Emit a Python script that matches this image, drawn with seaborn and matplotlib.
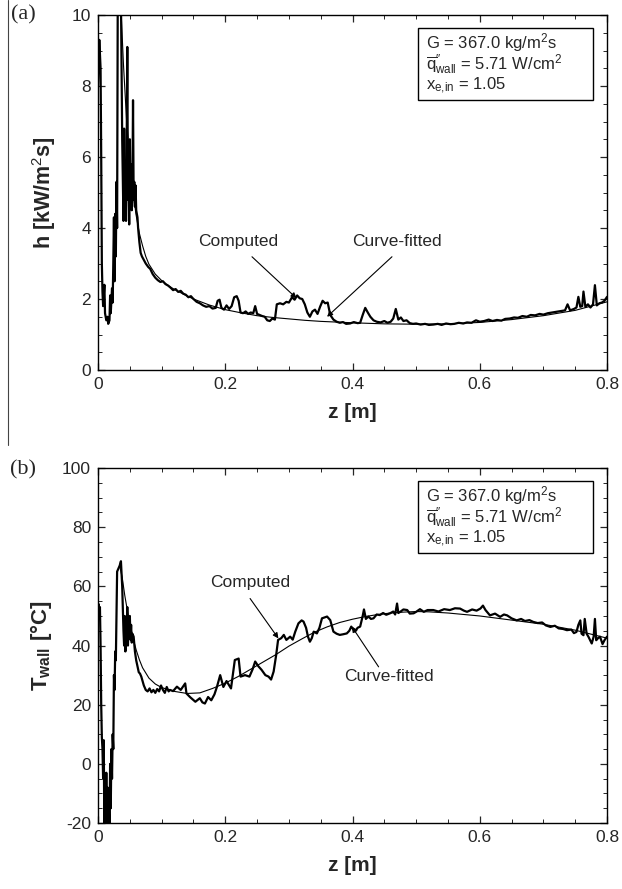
import seaborn as sns
import matplotlib.pyplot as plt
import matplotlib.patches as mpatches
from matplotlib.lines import Line2D
from matplotlib.ticker import MultipleLocator
import pandas as pd

OUTPUT_FILE_NAME = "out.png"

# ---- panel (a): heat transfer coefficient, computed ----
z_h = [0.000, 0.002, 0.004, 0.005, 0.006, 0.007, 0.008, 0.010, 0.011, 0.013,
       0.015, 0.016, 0.018, 0.019, 0.020, 0.022, 0.023, 0.024, 0.025, 0.026,
       0.027, 0.028, 0.029, 0.030, 0.031, 0.033, 0.036, 0.038, 0.040, 0.041,
       0.042, 0.043, 0.044, 0.045, 0.046, 0.047, 0.048, 0.049, 0.050, 0.051,
       0.052, 0.053, 0.054, 0.055, 0.056, 0.057, 0.058, 0.059, 0.060, 0.062,
       0.063, 0.065, 0.067, 0.069, 0.072, 0.075, 0.079, 0.082, 0.086, 0.090,
       0.094, 0.098, 0.102, 0.106, 0.110, 0.114, 0.118, 0.122, 0.126, 0.130,
       0.134, 0.138, 0.142, 0.146, 0.150, 0.155, 0.160, 0.165, 0.170, 0.175,
       0.180, 0.185, 0.188, 0.191, 0.194, 0.198, 0.202, 0.206, 0.210, 0.214,
       0.218, 0.221, 0.224, 0.228, 0.232, 0.236, 0.240, 0.244, 0.247, 0.250,
       0.254, 0.258, 0.262, 0.266, 0.270, 0.274, 0.278, 0.281, 0.286, 0.291,
       0.296, 0.300, 0.305, 0.309, 0.313, 0.317, 0.321, 0.325, 0.329, 0.333,
       0.337, 0.341, 0.345, 0.349, 0.353, 0.357, 0.361, 0.365, 0.370, 0.375,
       0.380, 0.385, 0.390, 0.396, 0.402, 0.408, 0.412, 0.416, 0.420, 0.424,
       0.428, 0.433, 0.438, 0.444, 0.450, 0.455, 0.460, 0.464, 0.468, 0.472,
       0.476, 0.480, 0.485, 0.490, 0.495, 0.500, 0.507, 0.514, 0.520, 0.527,
       0.534, 0.540, 0.547, 0.554, 0.560, 0.567, 0.574, 0.580, 0.587, 0.594,
       0.600, 0.607, 0.614, 0.620, 0.627, 0.634, 0.640, 0.647, 0.654, 0.660,
       0.667, 0.674, 0.680, 0.687, 0.694, 0.700, 0.707, 0.714, 0.720, 0.727,
       0.734, 0.738, 0.742, 0.748, 0.752, 0.755, 0.758, 0.761, 0.763, 0.766,
       0.770, 0.774, 0.778, 0.781, 0.784, 0.788, 0.792, 0.796, 0.800]
h_comp = [8.0, 9.3, 8.5, 6.0, 3.0, 2.2, 1.8, 2.4, 1.6, 1.4,
          1.5, 1.3, 1.4, 2.1, 1.6, 2.3, 1.9, 3.0, 4.3, 2.5,
          4.4, 3.2, 5.3, 4.0, 10.5, 10.5, 10.5, 6.5, 4.2, 6.8,
          4.3, 5.8, 4.2, 6.2, 9.1, 4.8, 5.5, 4.1, 6.5, 4.6,
          5.8, 4.5, 5.0, 7.6, 4.8, 5.3, 4.6, 5.2, 4.5, 4.3,
          4.0, 3.6, 3.3, 3.2, 3.1, 3.0, 2.9, 2.85, 2.7, 2.6,
          2.53, 2.48, 2.5, 2.42, 2.38, 2.32, 2.25, 2.28, 2.2, 2.23,
          2.15, 2.12, 2.05, 2.08, 2.0, 1.92, 1.88, 1.82, 1.78, 1.80,
          1.73, 1.75, 1.95, 1.98, 1.75, 1.70, 1.82, 1.72, 1.80, 2.05,
          2.08, 1.95, 1.62, 1.60, 1.65, 1.58, 1.62, 1.60, 1.80, 1.58,
          1.55, 1.52, 1.50, 1.40, 1.38, 1.45, 1.42, 1.85, 1.88, 1.85,
          1.92, 1.90, 2.05, 1.98, 2.10, 2.02, 2.0, 1.85, 1.62, 1.50,
          1.65, 1.70, 1.58, 1.78, 1.95, 1.88, 1.90, 1.55, 1.42, 1.36,
          1.33, 1.35, 1.30, 1.31, 1.35, 1.32, 1.33, 1.55, 1.75, 1.62,
          1.50, 1.40, 1.36, 1.34, 1.38, 1.33, 1.36, 1.45, 1.72, 1.42,
          1.48, 1.38, 1.40, 1.32, 1.30, 1.31, 1.28, 1.30, 1.27, 1.28,
          1.30, 1.27, 1.31, 1.29, 1.30, 1.33, 1.31, 1.34, 1.33, 1.40,
          1.36, 1.38, 1.42, 1.38, 1.41, 1.39, 1.44, 1.45, 1.48, 1.47,
          1.52, 1.50, 1.55, 1.54, 1.58, 1.56, 1.60, 1.62, 1.64, 1.66,
          1.68, 1.85, 1.68, 1.72, 1.76, 2.06, 1.78, 1.80, 2.21, 1.78,
          1.85, 1.76, 1.85, 2.39, 1.82, 1.88, 1.90, 1.95, 2.06]

# ---- panel (a): curve-fitted ----
z_h_fit = [0.036, 0.040, 0.045, 0.050, 0.055, 0.060, 0.065, 0.070, 0.075, 0.080,
           0.090, 0.100, 0.110, 0.120, 0.135, 0.150, 0.175, 0.200, 0.225, 0.250,
           0.275, 0.300, 0.325, 0.350, 0.375, 0.400, 0.450, 0.500, 0.550, 0.600,
           0.650, 0.700, 0.750, 0.800]
h_fit = [10.2, 8.6, 7.0, 5.9, 5.0, 4.35, 3.85, 3.5, 3.2, 2.98,
         2.7, 2.52, 2.38, 2.27, 2.13, 2.0, 1.83, 1.70, 1.61, 1.53,
         1.48, 1.44, 1.40, 1.37, 1.35, 1.33, 1.30, 1.29, 1.30, 1.34,
         1.42, 1.53, 1.68, 1.92]

# ---- panel (b): wall temperature, computed ----
z_t = [0.000, 0.001, 0.002, 0.003, 0.004, 0.005, 0.006, 0.007, 0.008, 0.009,
       0.010, 0.011, 0.012, 0.013, 0.014, 0.015, 0.016, 0.017, 0.018, 0.019,
       0.020, 0.021, 0.022, 0.023, 0.024, 0.025, 0.026, 0.027, 0.028, 0.029,
       0.030, 0.032, 0.034, 0.036, 0.038, 0.040, 0.041, 0.042, 0.043, 0.044,
       0.045, 0.046, 0.047, 0.048, 0.049, 0.050, 0.051, 0.052, 0.053, 0.054,
       0.056, 0.058, 0.060, 0.062, 0.064, 0.066, 0.068, 0.070, 0.072, 0.075,
       0.078, 0.081, 0.084, 0.087, 0.090, 0.093, 0.096, 0.099, 0.102, 0.105,
       0.108, 0.111, 0.113, 0.118, 0.124, 0.130, 0.137, 0.139, 0.145, 0.153,
       0.160, 0.164, 0.168, 0.173, 0.178, 0.183, 0.187, 0.192, 0.197, 0.202,
       0.209, 0.215, 0.221, 0.224, 0.231, 0.238, 0.243, 0.247, 0.252, 0.257,
       0.263, 0.268, 0.272, 0.276, 0.280, 0.283, 0.288, 0.292, 0.296, 0.302,
       0.306, 0.310, 0.315, 0.320, 0.323, 0.327, 0.330, 0.333, 0.336, 0.339,
       0.344, 0.348, 0.352, 0.356, 0.360, 0.365, 0.370, 0.375, 0.380, 0.385,
       0.391, 0.395, 0.398, 0.404, 0.408, 0.412, 0.416, 0.418, 0.421, 0.425,
       0.429, 0.433, 0.438, 0.443, 0.448, 0.453, 0.459, 0.464, 0.467, 0.470,
       0.472, 0.475, 0.480, 0.486, 0.490, 0.496, 0.500, 0.506, 0.512, 0.518,
       0.527, 0.535, 0.544, 0.553, 0.561, 0.569, 0.575, 0.580, 0.588, 0.595,
       0.601, 0.605, 0.609, 0.616, 0.624, 0.632, 0.638, 0.643, 0.650, 0.658,
       0.665, 0.671, 0.678, 0.684, 0.691, 0.698, 0.704, 0.711, 0.718, 0.724,
       0.731, 0.737, 0.744, 0.748, 0.752, 0.755, 0.758, 0.760, 0.763, 0.765,
       0.768, 0.771, 0.776, 0.779, 0.781, 0.783, 0.786, 0.789, 0.793, 0.796,
       0.800]
t_comp = [50, 54, 49, 53, 40, 20, 9, 5, -5, 8,
          -25, -10, -25, -3, -22, -8, -25, -12, -25, 0,
          -15, 5, -5, 10, 5, 30, 25, 38, 35, 50,
          65, 66, 67, 68.5, 60, 45, 40, 50, 38, 48,
          42, 53, 40, 46, 43, 50, 42, 47, 41, 44,
          43, 38, 35, 33, 31, 30.5, 29.5, 28, 26.5, 25,
          24.5, 25.5, 24.2, 25, 24, 25.3, 24.5, 26.5, 25, 24,
          26, 24.5, 25, 24.6, 26.1, 25.0, 27.2, 23.8, 22.5, 21,
          22.2, 20.8, 20.4, 22.6, 21.5, 23.5, 26.1, 30, 26, 28,
          25.5, 35.1, 35.6, 29.5, 30, 29.5, 32, 34.6, 33, 31.8,
          30, 29.5, 28.5, 31.2, 36.8, 41.9, 42.5, 43.6, 41.9, 43,
          42, 44.7, 47.5, 48.5, 48.1, 46, 43, 41.3, 42.5, 44.7,
          44.1, 46, 49.2, 49.5, 49.8, 48.6, 44.7, 44.0, 43.6, 43.8,
          44.1, 45, 46.4, 44.7, 46, 46.4, 50, 52.2, 49, 49.8,
          49, 49.2, 50.5, 50.3, 51, 50.4, 50.9, 51.5, 50.5, 54.2,
          51, 51.4, 52.2, 52, 50.8, 50.9, 51.4, 52.3, 51.4, 52,
          52, 51.5, 52.3, 52, 52.6, 52.5, 51.8, 51.4, 52.2, 51.8,
          52.5, 53.5, 52, 50.2, 50.8, 49.7, 50.5, 50.2, 49.2, 48.5,
          49, 48.3, 48.6, 48, 47.6, 47.8, 46.8, 46.3, 46.7, 45.8,
          45.6, 45.2, 45.4, 44.2, 44.6, 47, 48.5, 44, 43.5, 49,
          44, 42.9, 40.7, 43, 49, 41.8, 42.5, 43, 40.5, 41.8,
          43]

# ---- panel (b): curve-fitted ----
z_t_fit = [0.034, 0.038, 0.042, 0.046, 0.050, 0.055, 0.060, 0.065, 0.070, 0.080,
           0.090, 0.100, 0.120, 0.140, 0.160, 0.180, 0.200, 0.220, 0.240, 0.260,
           0.280, 0.300, 0.320, 0.340, 0.360, 0.380, 0.400, 0.420, 0.440, 0.460,
           0.480, 0.500, 0.520, 0.550, 0.600, 0.650, 0.700, 0.750, 0.800]
t_fit = [67, 63, 57, 52, 47.5, 42.5, 38.5, 35.2, 32.5, 29,
         27, 25.8, 24.5, 23.8, 24, 25.5, 27.3, 29.5, 32, 34.5,
         37, 39.8, 42.2, 44.5, 46.3, 47.8, 48.9, 49.8, 50.5, 51.0,
         51.3, 51.5, 51.4, 51.0, 50.0, 48.6, 47.2, 45.2, 42.5]

info_lines = [r"G = 367.0 kg/m$^2$s",
              r"$\overline{\mathrm{q}}^{\prime\prime}_{\mathrm{wall}}$ = 5.71 W/cm$^2$",
              r"x$_{\mathrm{e{,}in}}$ = 1.05"]


def style_axis(ax, ymin, ymax, ymajor, yminor):
    ax.set_xlim(0, 0.8)
    ax.set_ylim(ymin, ymax)
    ax.xaxis.set_major_locator(MultipleLocator(0.2))
    ax.xaxis.set_minor_locator(MultipleLocator(0.05))
    ax.yaxis.set_major_locator(MultipleLocator(ymajor))
    ax.yaxis.set_minor_locator(MultipleLocator(yminor))
    ax.xaxis.set_major_formatter(plt.FuncFormatter(lambda v, p: "0" if abs(v) < 1e-9 else f"{v:g}"))
    ax.tick_params(which="both", direction="in", top=True, right=True, labelsize=12.5, pad=5)
    ax.tick_params(which="major", length=5, width=0.9)
    ax.tick_params(which="minor", length=3, width=0.7)
    for s in ax.spines.values():
        s.set_linewidth(1.0)
        s.set_color("black")
    ax.set_xlabel("z [m]", fontsize=15, fontweight="bold", labelpad=8)
    # parameter box
    ax.add_patch(mpatches.Rectangle((0.629, 0.761), 0.344, 0.202, transform=ax.transAxes,
                                    fill=False, lw=1.0, ec="black", zorder=5))
    for i, line in enumerate(info_lines):
        ax.text(0.645, 0.922 - i * 0.061, line, transform=ax.transAxes, fontsize=12,
                va="center", ha="left", zorder=6)


if __name__ == "__main__":
    sns.set_style("ticks")
    plt.rcParams["font.family"] = ["Liberation Sans", "DejaVu Sans"]
    plt.rcParams["mathtext.fontset"] = "custom"
    plt.rcParams["mathtext.rm"] = "Liberation Sans"
    plt.rcParams["mathtext.it"] = "Liberation Sans:italic"
    plt.rcParams["mathtext.bf"] = "Liberation Sans:bold"
    plt.rcParams["axes.unicode_minus"] = False

    fig = plt.figure(figsize=(6.22, 8.89), dpi=100)
    ax1 = fig.add_axes([0.1576, 0.5838, 0.8183, 0.3993])
    ax2 = fig.add_axes([0.1576, 0.0742, 0.8183, 0.3993])

    dfa = pd.DataFrame({"z": z_h, "h": h_comp})
    dfa_fit = pd.DataFrame({"z": z_h_fit, "h": h_fit})
    sns.lineplot(data=dfa_fit, x="z", y="h", ax=ax1, color="black", lw=0.8,
                 estimator=None, sort=False)
    sns.lineplot(data=dfa, x="z", y="h", ax=ax1, color="black", lw=1.6,
                 estimator=None, sort=False)
    style_axis(ax1, 0, 10, 2, 0.5)
    ax1.set_ylabel("h [kW/m$^2$s]", fontsize=15.5, fontweight="bold", labelpad=10)
    ax1.text(0.220, 3.61, "Computed", fontsize=12.5, ha="center", va="center")
    ax1.annotate("", xy=(0.312, 2.02), xytext=(0.242, 3.19),
                 arrowprops=dict(arrowstyle="-|>", lw=0.8, color="black",
                                 mutation_scale=8, shrinkA=0, shrinkB=0))
    ax1.text(0.470, 3.61, "Curve-fitted", fontsize=12.5, ha="center", va="center")
    ax1.annotate("", xy=(0.360, 1.50), xytext=(0.462, 3.19),
                 arrowprops=dict(arrowstyle="-|>", lw=0.8, color="black",
                                 mutation_scale=8, shrinkA=0, shrinkB=0))

    dfb = pd.DataFrame({"z": z_t, "T": t_comp})
    dfb_fit = pd.DataFrame({"z": z_t_fit, "T": t_fit})
    sns.lineplot(data=dfb_fit, x="z", y="T", ax=ax2, color="black", lw=0.8,
                 estimator=None, sort=False)
    sns.lineplot(data=dfb, x="z", y="T", ax=ax2, color="black", lw=1.6,
                 estimator=None, sort=False)
    style_axis(ax2, -20, 100, 20, 5)
    ax2.set_ylabel(r"T$_{\mathbf{wall}}$ [°C]", fontsize=16, fontweight="bold", labelpad=6)
    ax2.text(0.239, 61.2, "Computed", fontsize=12.5, ha="center", va="center")
    ax2.annotate("", xy=(0.2835, 42.4), xytext=(0.239, 55.9),
                 arrowprops=dict(arrowstyle="-|>", lw=0.8, color="black",
                                 mutation_scale=8, shrinkA=0, shrinkB=0))
    ax2.text(0.457, 29.4, "Curve-fitted", fontsize=12.5, ha="center", va="center")
    ax2.annotate("", xy=(0.399, 46.4), xytext=(0.441, 32.8),
                 arrowprops=dict(arrowstyle="-|>", lw=0.8, color="black",
                                 mutation_scale=8, shrinkA=0, shrinkB=0))

    # panel labels and the scan edge line
    fig.text(0.037, 0.983, "(a)", fontsize=16, family="Liberation Serif", ha="center", va="center")
    fig.text(0.037, 0.472, "(b)", fontsize=16, family="Liberation Serif", ha="center", va="center")
    fig.add_artist(Line2D([0.0135, 0.0135], [1.0, 0.50], transform=fig.transFigure,
                          color="#444444", lw=0.8))

    fig.savefig(OUTPUT_FILE_NAME, dpi=100)
